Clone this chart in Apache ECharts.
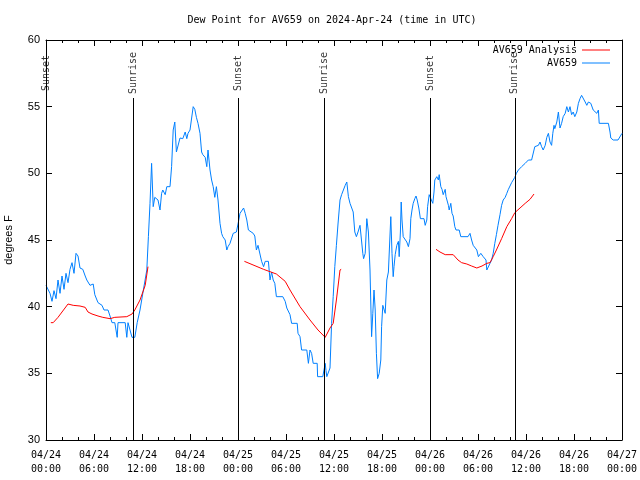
<!DOCTYPE html>
<html><head><meta charset="utf-8">
<script src="https://cdn.jsdelivr.net/npm/echarts@6/dist/echarts.min.js"></script>
<style>html,body{margin:0;padding:0;background:#fff}#c{width:640px;height:480px}</style>
</head><body><div id="c"></div>
<script>
const tickLabels = ['04/24\n00:00','04/24\n06:00','04/24\n12:00','04/24\n18:00','04/25\n00:00','04/25\n06:00','04/25\n12:00','04/25\n18:00','04/26\n00:00','04/26\n06:00','04/26\n12:00','04/26\n18:00','04/27\n00:00'];
const eventHours = [0, 10.875, 24.0, 34.75, 48.0, 58.6];
const eventNames = ['Sunset','Sunrise','Sunset','Sunrise','Sunset','Sunrise'];

const blueHours = [0.0,0.25,0.5,0.75,1.0,1.25,1.5,1.75,2.0,2.25,2.5,2.75,3.0,3.25,3.5,3.75,4.0,4.25,4.6,4.9,5.1,5.5,5.9,6.1,6.5,7.0,7.25,7.75,8.0,8.25,8.6,8.9,9.0,9.9,10.1,10.25,10.5,10.75,11.1,11.4,11.75,12.1,12.6,12.8,13.0,13.2,13.4,13.6,14.0,14.25,14.45,14.6,14.9,15.1,15.5,15.7,15.9,16.1,16.3,16.5,16.75,17.1,17.4,17.6,17.75,18.0,18.2,18.4,18.6,18.8,19.0,19.25,19.45,19.6,19.9,20.1,20.25,20.5,20.7,20.9,21.1,21.3,21.5,21.75,21.95,22.1,22.4,22.6,22.75,23.0,23.4,23.8,24.0,24.25,24.7,24.9,25.1,25.3,25.5,25.9,26.1,26.3,26.5,26.75,26.95,27.2,27.4,27.6,27.8,28.0,28.2,28.4,28.6,28.8,29.6,29.9,30.1,30.25,30.5,30.7,31.4,31.5,31.75,31.95,32.6,32.8,33.0,33.2,33.4,33.9,33.95,34.6,34.9,35.0,35.1,35.3,35.5,35.7,35.9,36.1,36.3,36.5,36.75,36.95,37.2,37.4,37.6,37.8,38.0,38.2,38.4,38.6,38.8,39.0,39.25,39.45,39.6,39.7,39.9,40.1,40.3,40.5,40.7,40.85,41.0,41.15,41.3,41.45,41.65,41.85,41.95,42.1,42.3,42.4,42.6,42.8,43.0,43.1,43.25,43.4,43.5,43.65,43.85,44.05,44.15,44.3,44.4,44.5,44.65,44.9,45.1,45.3,45.5,45.6,45.75,45.9,46.1,46.25,46.4,46.6,46.8,47.0,47.25,47.4,47.6,47.7,47.9,48.1,48.35,48.5,48.6,48.85,49.05,49.15,49.35,49.5,49.65,49.9,50.0,50.15,50.3,50.4,50.6,50.75,50.9,51.1,51.25,51.45,51.65,51.85,52.75,53.0,53.2,53.4,53.6,53.85,54.05,54.35,54.65,55.0,55.1,55.3,55.5,55.7,55.9,56.1,56.3,56.5,56.75,56.95,57.15,57.4,57.6,57.8,58.0,58.2,58.4,58.6,58.8,59.05,59.25,59.45,59.9,60.3,60.7,60.9,61.1,61.55,61.75,61.95,62.15,62.4,62.6,62.8,63.0,63.2,63.35,63.5,63.6,63.85,64.05,64.25,64.45,64.65,64.9,65.1,65.3,65.5,65.7,65.9,66.1,66.35,66.55,66.75,66.95,67.15,67.4,67.6,67.8,68.1,68.4,68.6,68.85,69.05,69.15,70.3,70.5,70.6,70.9,71.5,71.75,72.0];
const blueDew = [41.6,41.75,41.0,40.4,41.2,40.6,42.0,41.0,42.3,41.3,42.5,41.8,42.8,43.3,42.5,44.0,43.8,42.9,42.8,42.3,42.0,41.6,41.7,40.9,40.3,40.1,39.75,39.75,39.3,38.8,38.8,37.7,38.8,38.8,37.7,38.8,38.8,37.7,37.7,38.8,39.75,41.0,42.75,45.25,47.75,50.75,47.5,48.2,48.0,47.25,48.5,48.75,48.4,49.0,49.0,50.5,53.25,53.85,51.6,51.6,52.65,52.6,53.1,52.6,53.0,53.25,53.1,55.0,54.8,54.2,53.75,53.0,51.6,51.4,51.2,50.5,51.75,50.25,49.5,49.0,48.2,49.0,48.0,46.25,45.5,45.25,45.0,44.25,44.5,44.75,45.5,45.6,46.2,47.0,47.4,47.0,46.5,45.75,45.75,45.5,45.3,44.25,44.6,44.75,43.4,43.0,43.4,43.5,43.4,42.0,42.6,42.0,41.75,40.75,40.75,40.4,39.9,39.8,39.4,38.75,38.75,38.0,37.75,36.75,36.75,35.75,36.75,36.5,35.75,35.75,34.75,34.75,35.75,35.2,34.75,34.75,35.4,38.75,40.75,43.0,44.6,46.2,48.0,48.4,48.4,49.1,49.35,48.25,47.75,47.6,47.1,45.6,45.25,45.6,46.1,46.1,44.0,43.6,44.0,46.6,45.6,42.75,37.75,39.5,41.25,39.75,36.5,34.6,35.0,36.0,38.5,40.1,40.25,39.5,42.0,42.6,42.75,46.75,44.0,42.25,43.0,43.9,44.6,44.9,43.75,45.6,47.85,46.5,45.25,45.1,44.85,44.5,45.1,46.6,47.25,47.75,48.1,48.3,48.0,47.4,46.6,46.5,46.6,46.1,46.5,47.5,48.4,48.1,47.75,48.6,49.5,49.75,49.5,49.9,49.0,48.8,48.4,48.8,48.25,48.1,47.6,47.25,47.75,47.0,46.8,46.0,45.75,45.9,45.75,45.25,45.25,45.5,45.0,44.6,44.6,44.25,43.75,44.0,43.75,43.5,42.75,42.75,43.25,43.5,44.0,44.75,45.4,46.1,46.9,47.6,48.0,48.2,48.5,48.8,48.9,49.3,49.4,49.7,50.0,50.25,50.3,50.5,50.75,51.0,51.0,51.0,52.0,52.1,52.35,52.0,51.75,52.1,52.7,53.0,52.35,52.1,53.0,53.6,53.35,53.85,54.6,53.4,53.75,54.25,54.5,55.0,54.6,55.0,54.4,54.6,54.25,54.6,55.25,55.6,55.85,55.75,55.35,55.1,55.35,55.25,54.75,54.6,54.5,54.75,53.75,53.75,53.1,52.65,52.5,52.5,52.6,53.0];

const analysisHours1 = [0.6,0.9,1.5,2.0,2.75,3.4,4.25,4.9,5.25,5.75,6.5,7.1,8.0,8.6,10.1,10.75,11.1,11.75,12.4,12.75];
const analysisDew1 = [38.8,38.8,39.2,39.6,40.2,40.1,40.05,39.95,39.6,39.45,39.3,39.2,39.1,39.2,39.25,39.45,39.75,40.5,41.6,43.0];
const analysisHours2 = [24.8,27.2,28.8,29.9,30.5,31.75,33.0,34.0,34.9,35.5,35.9,36.3,36.75,36.9];
const analysisDew2 = [43.4,42.8,42.45,41.9,41.25,40.0,39.0,38.25,37.7,38.4,38.75,40.5,42.75,42.8];
const analysisHours3 = [48.75,49.25,49.9,50.9,51.5,51.95,52.6,53.2,53.85,54.5,55.1,55.5,55.9,56.3,56.95,57.6,58.2,58.6,59.25,59.9,60.5,61.0];
const analysisDew3 = [44.3,44.1,43.9,43.9,43.5,43.3,43.2,43.05,42.9,43.05,43.25,43.3,43.75,44.25,45.1,46.0,46.6,47.05,47.4,47.75,48.05,48.45];

const RED = '#ff0000', BLUE = '#0080ff';
const MONO = 'DejaVu Sans Mono';
const pairs = (xs, ys) => xs.map((x, i) => [x, ys[i]]);
const analysisSeries = (xs, ys) => ({
  name: 'AV659 Analysis', type: 'line', data: pairs(xs, ys), showSymbol: false, symbol: 'none',
  lineStyle: { color: RED, width: 1 }, itemStyle: { color: RED }, silent: true, animation: false, z: 4
});

const chart = echarts.init(document.getElementById('c'), null, { renderer: 'canvas' });
chart.setOption({
  animation: false,
  backgroundColor: '#ffffff',
  title: { text: 'Dew Point for AV659 on 2024-Apr-24 (time in UTC)', left: 332, textAlign: 'center', top: 15,
    padding: 0,
    textStyle: { fontFamily: MONO, fontSize: 10, fontWeight: 'normal', color: '#000' } },
  legend: {
    data: [{ name: 'AV659 Analysis', icon: 'rect' }, { name: 'AV659', icon: 'rect' }],
    orient: 'vertical', align: 'right', right: 30, top: 45, padding: 0, itemWidth: 28, itemHeight: 1, itemGap: 3,
    textStyle: { fontFamily: MONO, fontSize: 10, color: '#000', padding: [0, 0, 0, 0], lineHeight: 10 }
  },
  grid: { left: 46, right: 18, top: 40, bottom: 40, show: false, containLabel: false, outerBoundsMode: 'none' },
  xAxis: [{
    type: 'value', min: 0, max: 72, interval: 6, position: 'bottom',
    axisLine: { show: true, onZero: false, lineStyle: { color: '#000', width: 1 } },
    axisTick: { show: true, inside: true, length: 6, lineStyle: { color: '#000' } },
    minorTick: { show: true, splitNumber: 3, length: 3, lineStyle: { color: '#000' } },
    splitLine: { show: false },
    axisLabel: { fontFamily: MONO, fontSize: 10, color: '#000', lineHeight: 14, margin: 8,
      formatter: v => tickLabels[Math.round(v / 6)] }
  }, {
    type: 'value', min: 0, max: 72, interval: 6, position: 'top',
    axisLine: { show: true, onZero: false, lineStyle: { color: '#000', width: 1 } },
    axisTick: { show: true, inside: true, length: 6, lineStyle: { color: '#000' } },
    minorTick: { show: true, splitNumber: 3, length: 3, lineStyle: { color: '#000' } },
    splitLine: { show: false }, axisLabel: { show: false }
  }],
  yAxis: [{
    type: 'value', min: 30, max: 60, interval: 5, position: 'left',
    name: 'degrees F', nameLocation: 'middle', nameGap: 32, nameRotate: 90,
    nameTextStyle: { fontFamily: 'Liberation Sans', fontSize: 11, color: '#000' },
    axisLine: { show: true, onZero: false, lineStyle: { color: '#000', width: 1 } },
    axisTick: { show: true, inside: true, length: 6, lineStyle: { color: '#000' } },
    splitLine: { show: false },
    axisLabel: { fontFamily: 'Liberation Sans', fontSize: 11, color: '#000', margin: 6 }
  }, {
    type: 'value', min: 30, max: 60, interval: 5, position: 'right',
    axisLine: { show: true, onZero: false, lineStyle: { color: '#000', width: 1 } },
    axisTick: { show: true, inside: true, length: 6, lineStyle: { color: '#000' } },
    splitLine: { show: false }, axisLabel: { show: false }
  }],
  series: [
    analysisSeries(analysisHours1, analysisDew1),
    analysisSeries(analysisHours2, analysisDew2),
    analysisSeries(analysisHours3, analysisDew3),
    {
      name: 'AV659', type: 'line', data: pairs(blueHours, blueDew), showSymbol: false, symbol: 'none',
      lineStyle: { color: BLUE, width: 1 }, itemStyle: { color: BLUE }, silent: true, z: 3,
      markLine: {
        silent: true, symbol: 'none', animation: false,
        lineStyle: { color: '#000', width: 1, type: 'solid' }, label: { show: false },
        data: eventHours.map(h => [{ coord: [h, 30] }, { coord: [h, 55.65] }])
      }
    },
    {
      name: 'events', type: 'scatter', symbolSize: 0, silent: true,
      data: eventHours.map(h => [h, 57.6]),
      label: { show: true, position: 'inside', rotate: 90, color: '#000', fontFamily: MONO, fontSize: 10,
        offset: [-1, 0], formatter: p => eventNames[p.dataIndex] }
    }
  ]
});
</script></body></html>
